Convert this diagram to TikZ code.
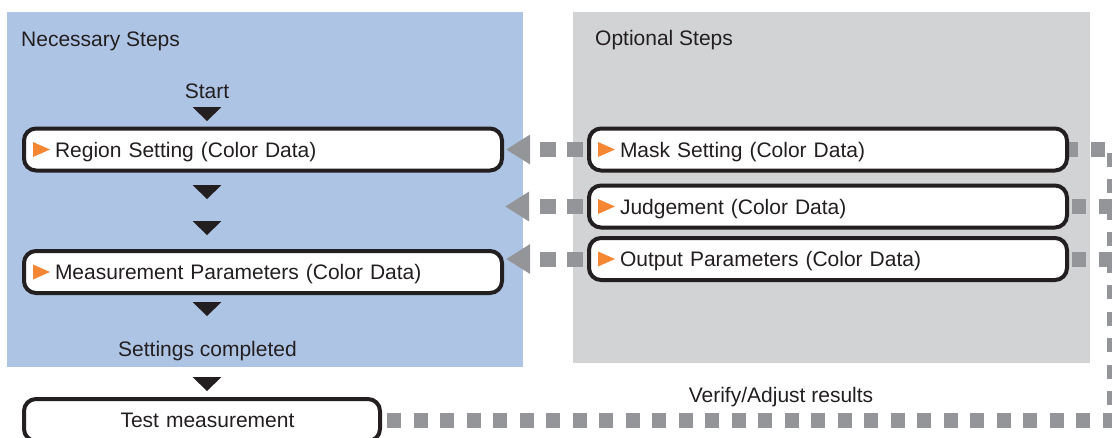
\documentclass[tikz,border=0pt]{standalone}
\usepackage{fontspec}
\setmainfont{Liberation Sans}
\usetikzlibrary{arrows.meta}
\definecolor{bluebg}{RGB}{174,196,228}
\definecolor{graybg}{RGB}{209,211,212}
\definecolor{conngray}{RGB}{147,149,152}
\definecolor{ori}{RGB}{245,134,52}
\definecolor{ink}{RGB}{35,31,32}
\pgfdeclarelayer{bglayer}
\pgfdeclarelayer{connlayer}
\pgfsetlayers{bglayer,connlayer,main}
\begin{document}
\begin{tikzpicture}[x=1pt,y=-1pt,
  font=\fontsize{21}{25}\selectfont, text=ink,
  stepbox/.style={draw=ink, line width=4pt, rounded corners=12pt, fill=white,
    minimum height=42pt, inner sep=0pt, text height=15pt, text depth=0pt, align=left},
  optbox/.style={stepbox, text width=478pt,
    path picture={\fill[ori,sharp corners] ([xshift=9pt,yshift=7.5pt]path picture bounding box.west)
      -- ++(0pt,-15pt) -- ++(17pt,7.5pt) -- cycle;}},
  freetext/.style={inner sep=0pt, anchor=base},
  dotline/.style={draw=conngray, line width=15pt, dash pattern=on 14pt off 12.5pt},
  backarrow/.style={draw=conngray, line width=15pt, dash pattern=on 16pt off 11pt,
    dash phase=23pt, -{Triangle[length=24pt,width=28pt]}},
  pics/downtri/.style={code={\fill[ink] (-14.5pt,7pt) -- (14.5pt,7pt) -- (0pt,-7pt) -- cycle;}}
]
\useasboundingbox (0,0) rectangle (1112,437);

% panels
\begin{pgfonlayer}{bglayer}
  \fill[bluebg] (7,12) rectangle (523,367);
  \fill[graybg] (573,12) rectangle (1090,363);
\end{pgfonlayer}

% titles and free labels
\node[freetext, anchor=base west] (nec) at (21,46) {Necessary Steps};
\node[freetext, anchor=base west] (opt) at (595,45) {Optional Steps};
\node[freetext] (start) at (207,98) {Start};
\node[freetext] (done) at (207.5,356) {Settings completed};
\node[freetext] (verify) at (781,402) {Verify/Adjust results};

% step boxes
\node[optbox] (reg) at (263,149.5) {\hspace*{31pt}Region Setting (Color Data)};
\node[optbox] (meas) at (263,272) {\hspace*{31pt}Measurement Parameters (Color Data)};
\node[stepbox, text width=356pt, align=center] (test) at (202,420) {\hspace*{11pt}Test measurement};
\node[optbox] (mask) at (828,149.5) {\hspace*{31pt}Mask Setting (Color Data)};
\node[optbox] (judg) at (828,206.5) {\hspace*{31pt}Judgement (Color Data)};
\node[optbox] (outp) at (828,259) {\hspace*{31pt}Output Parameters (Color Data)};

% flow triangles
\pic at (207,114) {downtri};
\pic at (207,192) {downtri};
\pic at (207,228) {downtri};
\pic at (207,309) {downtri};
\pic at (207,384) {downtri};

% dashed connectors
\begin{pgfonlayer}{connlayer}
  \draw[backarrow] (mask.west) -- ([xshift=2pt]reg.east);
  \draw[backarrow] (judg.west) -- ([xshift=1pt]reg.east |- judg.west);
  \draw[backarrow] (outp.west) -- ([xshift=2pt]meas.east |- outp.west);
  \coordinate (cb) at (1114,420);
  \coordinate (ct) at (1114,149.5);
  \draw[dotline, dash phase=21.5pt] (test.east) -- (cb) -- (ct) -- (mask.east);
  \draw[dotline, dash phase=23.5pt] (judg.east) -- (ct |- judg.east);
  \draw[dotline, dash phase=23.5pt] (outp.east) -- (ct |- outp.east);
\end{pgfonlayer}
\end{tikzpicture}
\end{document}
